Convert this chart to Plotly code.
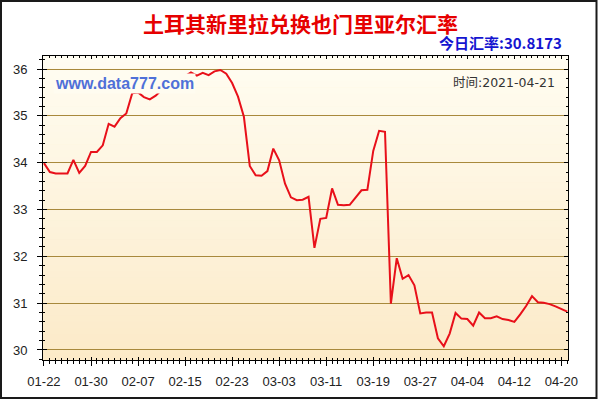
import plotly.graph_objects as go
from datetime import date, timedelta

# ---------------- data ----------------
start_day = date(2021, 1, 22)
rates = [
    33.99, 33.80, 33.77, 33.77, 33.77, 34.06, 33.78, 33.93, 34.23, 34.23,
    34.37, 34.83, 34.77, 34.95, 35.05, 35.48, 35.50, 35.40, 35.35, 35.43,
    35.55, 35.62, 35.68, 35.75, 35.85, 35.93, 35.86, 35.92, 35.87, 35.95,
    35.98, 35.90, 35.70, 35.41, 34.98, 33.93, 33.73, 33.72, 33.82, 34.30,
    34.05, 33.55, 33.26, 33.20, 33.21, 33.27, 32.18, 32.80, 32.82, 33.45,
    33.10, 33.09, 33.10, 33.26, 33.41, 33.42, 34.25, 34.68, 34.66, 30.99,
    31.96, 31.52, 31.60, 31.38, 30.78, 30.80, 30.80, 30.25, 30.08, 30.35,
    30.79, 30.67, 30.66, 30.52, 30.80, 30.68, 30.68, 30.72, 30.66, 30.64,
    30.60, 30.76, 30.94, 31.15, 31.02, 31.01, 30.98, 30.93, 30.88, 30.8173,
]
dates = [(start_day + timedelta(days=i)).isoformat() for i in range(len(rates))]

x_tick_labels = ["01-22", "01-30", "02-07", "02-15", "02-23", "03-03",
                 "03-11", "03-19", "03-27", "04-04", "04-12", "04-20"]
x_tick_vals = ["2021-" + t for t in x_tick_labels]
y_tick_vals = [30, 31, 32, 33, 34, 35, 36]
y_tick_labels = [str(v) for v in y_tick_vals]

title_text = "土耳其新里拉兑换也门里亚尔汇率"
today_text = "今日汇率:30.8173"
watermark_text = "www.data777.com"
time_text = "时间:2021-04-21"

# ---------------- layout helpers ----------------
W, H = 600, 400
L, R, T, B = 43, 32, 56, 40
PW, PH = W - L - R, H - T - B


def px_x(px):
    return (px - L) / PW


def px_y(py):
    return (H - B - py) / PH


x_range = ["2021-01-21 20:00", "2021-04-21 03:00"]
y_range = [29.786, 36.278]

fig = go.Figure()

fig.add_trace(go.Scatter(
    x=dates, y=rates, mode="lines",
    line=dict(color="#E8101A", width=2),
    showlegend=False, hoverinfo="x+y",
))
# invisible trace for the overlay axes (inside ticks / frame)
fig.add_trace(go.Scatter(
    x=[dates[0]], y=[rates[0]], xaxis="x2", yaxis="y2", mode="markers",
    marker=dict(opacity=0), showlegend=False, hoverinfo="skip",
))

# gradient background
shapes = []
top_c = (255, 253, 242)
bot_c = (252, 234, 200)
N = 48
for i in range(N):
    f = (i + 0.5) / N
    c = tuple(round(top_c[k] + (bot_c[k] - top_c[k]) * f) for k in range(3))
    shapes.append(dict(
        type="rect", xref="paper", yref="paper", layer="below",
        x0=0, x1=1, y0=1 - (i + 1) / N, y1=1 - i / N + 0.001,
        fillcolor="rgb(%d,%d,%d)" % c, line=dict(width=0),
    ))
# outer border
shapes.append(dict(
    type="rect", xref="paper", yref="paper", layer="above",
    x0=px_x(1), x1=px_x(596.5), y0=px_y(398), y1=px_y(1),
    line=dict(color="#1a1a1a", width=2), fillcolor="rgba(0,0,0,0)",
))

annotations = [
    dict(text="<b>" + title_text + "</b>", xref="paper", yref="paper",
         x=px_x(300), y=px_y(23), xanchor="center", yanchor="middle",
         showarrow=False,
         font=dict(family="Noto Sans CJK SC", size=21, color="#E60000")),
    dict(text="<b>" + today_text + "</b>", xref="paper", yref="paper",
         x=px_x(564), y=px_y(43), xanchor="right", yanchor="middle",
         showarrow=False,
         font=dict(family="Noto Sans CJK SC", size=15, color="#1515D0")),
    dict(text="<b>" + watermark_text + "</b>", xref="paper", yref="paper",
         x=px_x(53), y=px_y(84), xanchor="left", yanchor="middle",
         showarrow=False, bgcolor="rgb(255,252,240)", borderpad=1,
         font=dict(family="Liberation Sans, Arial", size=16, color="#4F70D8")),
    dict(text=time_text, xref="paper", yref="paper",
         x=px_x(557), y=px_y(82), xanchor="right", yanchor="middle",
         showarrow=False,
         font=dict(family="DejaVu Sans, Noto Sans CJK SC", size=12.5,
                   color="#333333")),
]

tick_font = dict(family="Liberation Sans, Arial", size=13, color="#222222")

fig.update_layout(
    width=W, height=H,
    margin=dict(l=L, r=R, t=T, b=B, pad=0),
    paper_bgcolor="white",
    plot_bgcolor="rgb(252,234,200)",
    shapes=shapes,
    annotations=annotations,
    showlegend=False,
    xaxis=dict(
        type="date", range=x_range,
        tickvals=x_tick_vals, ticktext=x_tick_labels,
        ticks="outside", ticklen=5, tickwidth=1, tickcolor="black",
        minor=dict(dtick=86400000, tick0="2021-01-22", ticks="outside",
                   ticklen=3, tickwidth=1, tickcolor="black"),
        showline=True, linecolor="black", linewidth=1, mirror=False,
        showgrid=False, zeroline=False,
        tickfont=tick_font, ticklabelstandoff=4,
    ),
    yaxis=dict(
        range=y_range,
        tickvals=y_tick_vals, ticktext=y_tick_labels,
        ticks="outside", ticklen=5, tickwidth=1, tickcolor="black",
        minor=dict(dtick=0.2, tick0=30, ticks="outside", ticklen=3,
                   tickwidth=1, tickcolor="black", showgrid=False),
        showline=True, linecolor="black", linewidth=1, mirror=False,
        showgrid=True, gridcolor="#A8893C", gridwidth=1, zeroline=False,
        tickfont=tick_font, ticklabelstandoff=7,
    ),
    xaxis2=dict(
        type="date", range=x_range, overlaying="x", anchor="y2",
        tickvals=x_tick_vals, showticklabels=False,
        ticks="inside", ticklen=3, tickwidth=1, tickcolor="black",
        minor=dict(dtick=86400000, tick0="2021-01-22", ticks="inside",
                   ticklen=2, tickwidth=1, tickcolor="black"),
        showline=True, linecolor="black", linewidth=1, mirror="ticks",
        showgrid=False, zeroline=False,
    ),
    yaxis2=dict(
        range=y_range, overlaying="y", anchor="x2", side="left",
        tickvals=y_tick_vals, showticklabels=False,
        ticks="inside", ticklen=4, tickwidth=1, tickcolor="black",
        minor=dict(dtick=0.2, tick0=30, ticks="inside", ticklen=2,
                   tickwidth=1, tickcolor="black", showgrid=False),
        showline=True, linecolor="black", linewidth=1, mirror="ticks",
        showgrid=False, zeroline=False,
    ),
)

fig.write_html(
    "out.html",
    config={"displayModeBar": False},
    post_script="document.body.style.margin='0px';document.body.style.padding='0px';",
)
